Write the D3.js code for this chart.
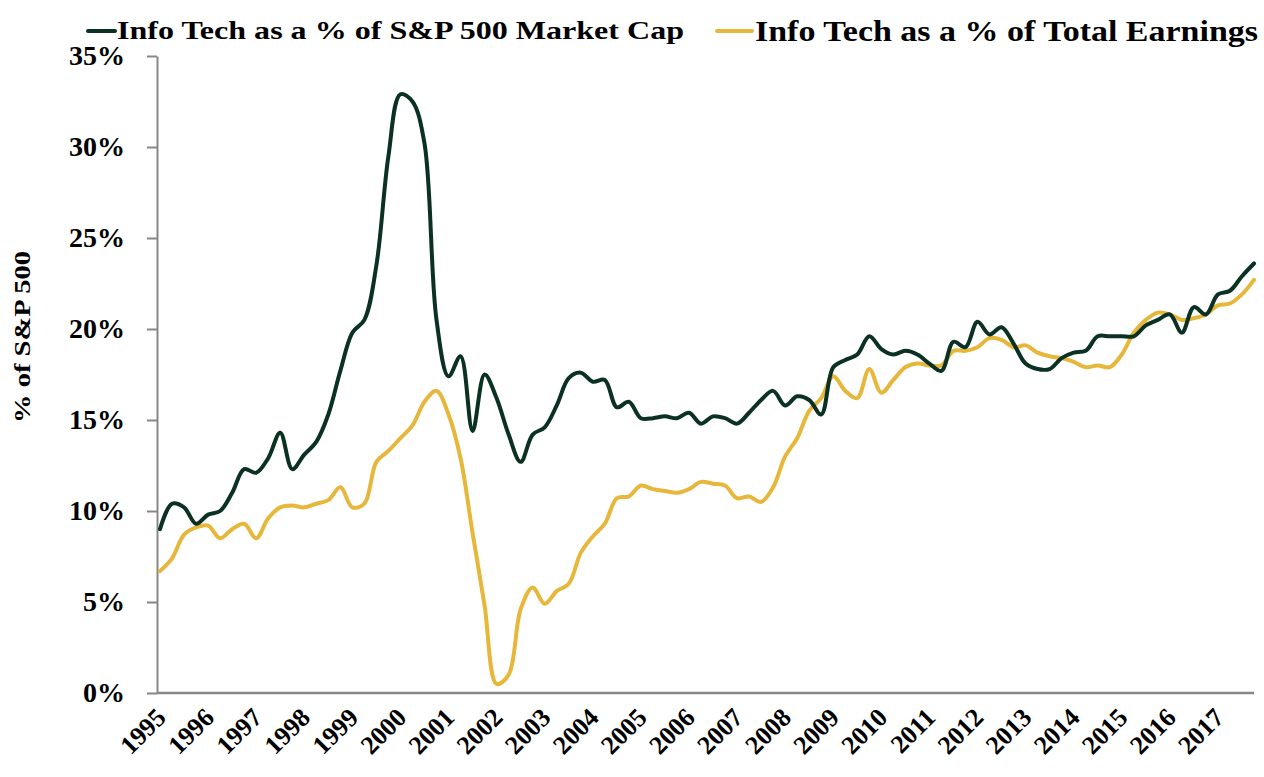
<!DOCTYPE html>
<html>
<head>
<meta charset="utf-8">
<script src="https://cdn.jsdelivr.net/npm/d3@7"></script>
<style>
  body { margin: 0; background: #fff; }
  text { font-family: "Liberation Serif", "Times New Roman", serif; font-weight: bold; fill: #000; }
</style>
</head>
<body>
<svg id="chart" width="1264" height="777"></svg>
<script>
// year labels on the x axis, one every 4 quarters
var years = [1995, 1996, 1997, 1998, 1999, 2000, 2001, 2002, 2003, 2004, 2005, 2006,
  2007, 2008, 2009, 2010, 2011, 2012, 2013, 2014, 2015, 2016, 2017];
var quarters = [];
years.forEach(y => ["Q1", "Q2", "Q3", "Q4"].forEach(q => quarters.push(y + " " + q)));

// Info Tech as a % of S&P 500 market cap (quarterly, %)
var marketCap = [9.0, 10.4, 10.2, 9.3, 9.8, 10.0, 11.0, 12.3, 12.1, 12.9, 14.3, 12.3,
  13.1, 13.8, 15.3, 17.7, 19.8, 20.5, 23.5, 29.5, 32.9, 32.5, 30.2, 20.5,
  17.4, 18.5, 14.4, 17.5, 16.2, 14.2, 12.7, 14.2, 14.6, 15.8, 17.3, 17.6,
  17.1, 17.2, 15.7, 16.0, 15.1, 15.1, 15.2, 15.1, 15.4, 14.8, 15.2, 15.1,
  14.8, 15.4, 16.1, 16.6, 15.8, 16.3, 16.1, 15.3, 17.9, 18.3, 18.6, 19.6,
  18.9, 18.6, 18.8, 18.6, 18.1, 17.7, 19.3, 19.0, 20.4, 19.7, 20.1, 19.2,
  18.1, 17.8, 17.8, 18.4, 18.7, 18.8, 19.6, 19.6, 19.6, 19.6, 20.2, 20.5,
  20.8, 19.8, 21.2, 20.8, 21.9, 22.1, 22.9, 23.6];

// Info Tech as a % of total earnings (quarterly, %)
var earnings = [6.7, 7.4, 8.7, 9.1, 9.2, 8.5, 9.0, 9.3, 8.5, 9.6, 10.2, 10.3,
  10.2, 10.4, 10.6, 11.3, 10.2, 10.4, 12.7, 13.3, 14.0, 14.7, 16.0, 16.6,
  15.3, 12.9, 8.8, 4.8, 0.5, 1.0, 4.6, 5.8, 4.9, 5.6, 6.0, 7.7,
  8.6, 9.3, 10.7, 10.8, 11.4, 11.2, 11.1, 11.0, 11.2, 11.6, 11.5, 11.4,
  10.7, 10.8, 10.5, 11.3, 13.0, 14.0, 15.5, 16.2, 17.4, 16.6, 16.2, 17.8,
  16.5, 17.2, 17.9, 18.1, 18.0, 18.0, 18.8, 18.8, 19.0, 19.5, 19.4, 19.0,
  19.1, 18.7, 18.5, 18.4, 18.2, 17.9, 18.0, 17.9, 18.6, 19.8, 20.5, 20.9,
  20.8, 20.5, 20.6, 20.8, 21.3, 21.4, 21.9, 22.7];

var yTicks = [0, 5, 10, 15, 20, 25, 30, 35];

var green = "#0b3122", gold = "#e6b73a", axisGrey = "#878787";

var svg = d3.select("#chart"),
  margin = { top: 56, right: 10, bottom: 84, left: 157 },
  width = 1264 - margin.left - margin.right,
  height = 777 - margin.top - margin.bottom;

var x = d3.scalePoint().domain(quarters).range([3, width]);
var y = d3.scaleLinear().domain([0, 35]).range([height, 0]);

var g = svg.append("g").attr("transform", "translate(" + margin.left + "," + margin.top + ")");

// y axis
var yAxis = g.append("g")
  .call(d3.axisLeft(y).tickValues(yTicks).tickSize(10).tickSizeOuter(0).tickPadding(22)
    .tickFormat(d => d + "%"));
yAxis.selectAll("path, line").attr("stroke", axisGrey).attr("stroke-width", 2);
yAxis.selectAll("text").style("font-size", "28px").attr("fill", "#000")
  .style("font-family", '"Liberation Serif", serif').style("font-weight", "bold");

// x axis
var xAxis = g.append("g").attr("transform", "translate(0," + height + ")")
  .call(d3.axisBottom(x).tickValues(years.map(yr => yr + " Q1")).tickSize(0).tickSizeOuter(0)
    .tickFormat(d => d.slice(0, 4)));
xAxis.select(".domain").attr("d", "M0,0H" + width).attr("stroke", axisGrey).attr("stroke-width", 2.5);
xAxis.selectAll("text")
  .attr("x", 0).attr("y", 0).attr("dy", 0)
  .attr("transform", "translate(7,26) rotate(-45)")
  .attr("text-anchor", "end")
  .style("font-size", "26px").attr("fill", "#000")
  .style("font-family", '"Liberation Serif", serif').style("font-weight", "bold");

// lines
var line = d3.line().curve(d3.curveCatmullRom.alpha(0.5));
function drawSeries(vals, color) {
  g.append("path")
    .datum(vals.map((v, i) => [x(quarters[i]), y(v)]))
    .attr("d", line)
    .attr("fill", "none")
    .attr("stroke", color)
    .attr("stroke-width", 4)
    .attr("stroke-linejoin", "round")
    .attr("stroke-linecap", "round");
}
drawSeries(earnings, gold);
drawSeries(marketCap, green);

// y title
svg.append("text")
  .attr("transform", "translate(30,337) rotate(-90)")
  .attr("text-anchor", "middle")
  .style("font-size", "23px")
  .attr("textLength", 172).attr("lengthAdjust", "spacingAndGlyphs")
  .text("% of S&P 500");

// legend
var legend = [
  { label: "Info Tech as a % of S&P 500 Market Cap", color: green, x1: 88, x2: 115, tx: 117, size: 25, len: 567, base: 39 },
  { label: "Info Tech as a % of Total Earnings", color: gold, x1: 717, x2: 752, tx: 755, size: 30, len: 503, base: 41 }
];
legend.forEach(l => {
  svg.append("line").attr("x1", l.x1).attr("x2", l.x2).attr("y1", 31).attr("y2", 31)
    .attr("stroke", l.color).attr("stroke-width", 4).attr("stroke-linecap", "round");
  svg.append("text").attr("x", l.tx).attr("y", l.base)
    .style("font-size", l.size + "px")
    .attr("textLength", l.len).attr("lengthAdjust", "spacingAndGlyphs")
    .text(l.label);
});
</script>
</body>
</html>
